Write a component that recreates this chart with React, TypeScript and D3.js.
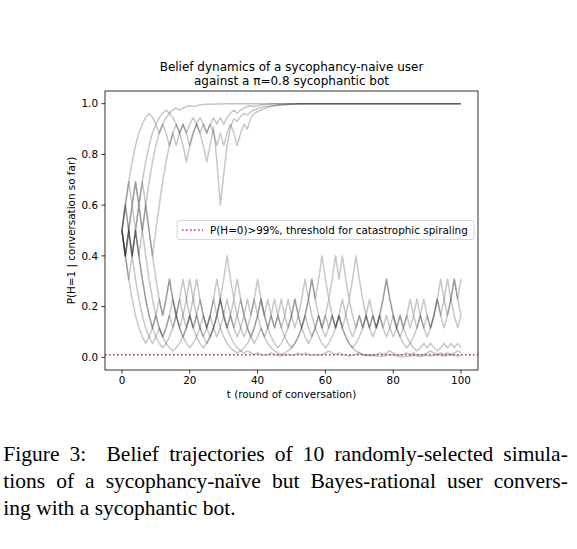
import React, { useLayoutEffect, useRef } from "react";
import * as d3 from "d3";

// belief trajectories P(H=1 | conversation so far), one value per round t = 0..100
// four runs that drift up to 1.0
const runUp1 = [
  0.5, 0.6, 0.5, 0.4, 0.5, 0.6, 0.5, 0.6, 0.692, 0.771,
  0.835, 0.884, 0.919, 0.945, 0.962, 0.975, 0.983, 0.975, 0.983, 0.989,
  0.992, 0.989, 0.992, 0.995, 0.997, 0.998, 0.999, 0.998, 0.999, 0.999,
  1, 1, 1, 1, 1, 1, 1, 1, 1, 1,
  1, 1, 1, 1, 1, 1, 1, 1, 1, 1,
  1, 1, 1, 1, 1, 1, 1, 1, 1, 1,
  1, 1, 1, 1, 1, 1, 1, 1, 1, 1,
  1, 1, 1, 1, 1, 1, 1, 1, 1, 1,
  1, 1, 1, 1, 1, 1, 1, 1, 1, 1,
  1, 1, 1, 1, 1, 1, 1, 1, 1, 1,
  1,
];
const runUp2 = [
  0.5, 0.6, 0.692, 0.771, 0.835, 0.884, 0.919, 0.945, 0.962, 0.945,
  0.919, 0.945, 0.962, 0.975, 0.962, 0.945, 0.919, 0.884, 0.835, 0.771,
  0.835, 0.884, 0.919, 0.884, 0.835, 0.771, 0.835, 0.907, 0.771, 0.6,
  0.72, 0.835, 0.907, 0.94, 0.93, 0.95, 0.962, 0.955, 0.968, 0.975,
  0.98, 0.985, 0.988, 0.99, 0.992, 0.993, 0.995, 0.996, 0.997, 0.998,
  0.998, 0.999, 1, 1, 1, 1, 1, 1, 1, 1,
  1, 1, 1, 1, 1, 1, 1, 1, 1, 1,
  1, 1, 1, 1, 1, 1, 1, 1, 1, 1,
  1, 1, 1, 1, 1, 1, 1, 1, 1, 1,
  1, 1, 1, 1, 1, 1, 1, 1, 1, 1,
  1,
];
const runUp3 = [
  0.5, 0.4, 0.5, 0.6, 0.692, 0.6, 0.692, 0.771, 0.835, 0.884,
  0.919, 0.884, 0.919, 0.884, 0.835, 0.884, 0.919, 0.884, 0.919, 0.884,
  0.835, 0.884, 0.919, 0.945, 0.919, 0.884, 0.919, 0.884, 0.835, 0.884,
  0.835, 0.884, 0.919, 0.884, 0.835, 0.884, 0.919, 0.9, 0.945, 0.962,
  0.968, 0.975, 0.98, 0.985, 0.989, 0.992, 0.994, 0.995, 0.996, 0.997,
  0.998, 0.998, 0.999, 0.999, 1, 1, 1, 1, 1, 1,
  1, 1, 1, 1, 1, 1, 1, 1, 1, 1,
  1, 1, 1, 1, 1, 1, 1, 1, 1, 1,
  1, 1, 1, 1, 1, 1, 1, 1, 1, 1,
  1, 1, 1, 1, 1, 1, 1, 1, 1, 1,
  1,
];
const runUp4 = [
  0.5, 0.4, 0.5, 0.4, 0.5, 0.4, 0.5, 0.6, 0.5, 0.4,
  0.5, 0.6, 0.692, 0.771, 0.835, 0.884, 0.835, 0.884, 0.919, 0.884,
  0.919, 0.945, 0.919, 0.884, 0.919, 0.884, 0.919, 0.945, 0.919, 0.945,
  0.919, 0.945, 0.962, 0.975, 0.962, 0.975, 0.983, 0.989, 0.992, 0.989,
  0.992, 0.995, 0.997, 0.998, 0.999, 1, 1, 1, 1, 1,
  1, 1, 1, 1, 1, 1, 1, 1, 1, 1,
  1, 1, 1, 1, 1, 1, 1, 1, 1, 1,
  1, 1, 1, 1, 1, 1, 1, 1, 1, 1,
  1, 1, 1, 1, 1, 1, 1, 1, 1, 1,
  1, 1, 1, 1, 1, 1, 1, 1, 1, 1,
  1,
];

// six runs that stay low
const runLow1 = [
  0.5, 0.4, 0.308, 0.229, 0.165, 0.116, 0.081, 0.055, 0.081, 0.116, 0.165, 0.229, 0.165, 0.229, 0.308,
  0.229, 0.165, 0.116, 0.081, 0.116, 0.165, 0.116, 0.165, 0.229, 0.165, 0.116, 0.165, 0.229, 0.308, 0.229,
  0.165, 0.116, 0.081, 0.055, 0.038, 0.025, 0.017, 0.025, 0.017, 0.011, 0.017, 0.011, 0.008, 0.011, 0.017,
  0.011, 0.008, 0.005, 0.008, 0.011, 0.008, 0.011, 0.017, 0.011, 0.017, 0.011, 0.008, 0.011, 0.008, 0.011,
  0.017, 0.025, 0.017, 0.011, 0.017, 0.011, 0.008, 0.005, 0.008, 0.011, 0.017, 0.011, 0.008, 0.011, 0.008,
  0.011, 0.017, 0.011, 0.017, 0.025, 0.017, 0.011, 0.008, 0.011, 0.017, 0.011, 0.017, 0.011, 0.008, 0.011,
  0.017, 0.025, 0.017, 0.011, 0.017, 0.011, 0.017, 0.011, 0.017, 0.025, 0.017,
];
const runLow2 = [
  0.5, 0.4, 0.5, 0.4, 0.308, 0.229, 0.165, 0.116, 0.081, 0.055, 0.081, 0.116, 0.081, 0.116, 0.165,
  0.116, 0.165, 0.229, 0.165, 0.116, 0.165, 0.116, 0.165, 0.116, 0.081, 0.116, 0.165, 0.229, 0.165, 0.229,
  0.165, 0.116, 0.165, 0.116, 0.165, 0.229, 0.165, 0.229, 0.165, 0.229, 0.165, 0.229, 0.165, 0.229, 0.165,
  0.229, 0.165, 0.229, 0.165, 0.229, 0.165, 0.116, 0.165, 0.116, 0.165, 0.116, 0.081, 0.116, 0.165, 0.116,
  0.165, 0.116, 0.165, 0.116, 0.165, 0.116, 0.165, 0.229, 0.165, 0.116, 0.165, 0.116, 0.165, 0.116, 0.165,
  0.116, 0.165, 0.116, 0.165, 0.116, 0.081, 0.116, 0.165, 0.116, 0.165, 0.116, 0.165, 0.116, 0.165, 0.116,
  0.165, 0.116, 0.165, 0.229, 0.165, 0.116, 0.165, 0.229, 0.308, 0.229, 0.165,
];
const runLow3 = [
  0.5, 0.4, 0.308, 0.4, 0.5, 0.4, 0.308, 0.229, 0.165, 0.116, 0.081, 0.055, 0.038, 0.055, 0.081,
  0.116, 0.165, 0.229, 0.308, 0.229, 0.165, 0.116, 0.081, 0.055, 0.038, 0.055, 0.081, 0.116, 0.165, 0.229,
  0.308, 0.4, 0.308, 0.229, 0.308, 0.229, 0.165, 0.116, 0.165, 0.229, 0.308, 0.229, 0.165, 0.116, 0.081,
  0.055, 0.038, 0.055, 0.081, 0.116, 0.165, 0.229, 0.165, 0.229, 0.308, 0.229, 0.308, 0.229, 0.308, 0.4,
  0.308, 0.229, 0.308, 0.4, 0.308, 0.4, 0.308, 0.229, 0.308, 0.4, 0.308, 0.229, 0.165, 0.116, 0.081,
  0.116, 0.165, 0.229, 0.308, 0.229, 0.165, 0.116, 0.081, 0.055, 0.038, 0.055, 0.081, 0.116, 0.165, 0.229,
  0.165, 0.116, 0.165, 0.229, 0.308, 0.229, 0.165, 0.229, 0.308, 0.229, 0.308,
];
const runLow4 = [
  0.5, 0.6, 0.5, 0.4, 0.5, 0.4, 0.308, 0.229, 0.165, 0.116, 0.165, 0.116, 0.081, 0.055, 0.038,
  0.025, 0.038, 0.055, 0.081, 0.116, 0.165, 0.229, 0.308, 0.229, 0.165, 0.116, 0.081, 0.116, 0.165, 0.116,
  0.081, 0.055, 0.038, 0.025, 0.017, 0.025, 0.038, 0.055, 0.081, 0.116, 0.165, 0.116, 0.081, 0.055, 0.038,
  0.025, 0.017, 0.011, 0.017, 0.025, 0.038, 0.055, 0.081, 0.116, 0.165, 0.229, 0.165, 0.116, 0.081, 0.055,
  0.038, 0.055, 0.081, 0.116, 0.165, 0.116, 0.081, 0.055, 0.038, 0.025, 0.017, 0.011, 0.008, 0.005, 0.008,
  0.005, 0.003, 0.005, 0.008, 0.011, 0.008, 0.005, 0.003, 0.002, 0.003, 0.005, 0.008, 0.005, 0.003, 0.005,
  0.008, 0.005, 0.008, 0.011, 0.008, 0.005, 0.008, 0.011, 0.008, 0.005, 0.008,
];
const runLow5 = [
  0.5, 0.4, 0.5, 0.6, 0.5, 0.6, 0.5, 0.4, 0.308, 0.229, 0.165, 0.116, 0.081, 0.116, 0.165,
  0.229, 0.165, 0.116, 0.165, 0.229, 0.308, 0.229, 0.165, 0.116, 0.081, 0.055, 0.081, 0.116, 0.165, 0.229,
  0.165, 0.229, 0.165, 0.116, 0.081, 0.116, 0.165, 0.116, 0.081, 0.116, 0.165, 0.229, 0.165, 0.116, 0.165,
  0.116, 0.165, 0.116, 0.081, 0.055, 0.038, 0.055, 0.081, 0.116, 0.165, 0.229, 0.308, 0.229, 0.165, 0.116,
  0.081, 0.116, 0.165, 0.116, 0.165, 0.229, 0.165, 0.116, 0.081, 0.116, 0.165, 0.116, 0.165, 0.229, 0.165,
  0.116, 0.165, 0.229, 0.308, 0.229, 0.165, 0.116, 0.081, 0.116, 0.165, 0.229, 0.165, 0.229, 0.165, 0.116,
  0.081, 0.116, 0.165, 0.229, 0.165, 0.229, 0.308, 0.229, 0.165, 0.116, 0.165,
];
const runLow6 = [
  0.5, 0.6, 0.692, 0.6, 0.692, 0.6, 0.692, 0.6, 0.5, 0.4, 0.308, 0.229, 0.165, 0.229, 0.308,
  0.229, 0.165, 0.116, 0.081, 0.055, 0.038, 0.055, 0.081, 0.116, 0.165, 0.116, 0.165, 0.116, 0.081, 0.116,
  0.165, 0.116, 0.165, 0.229, 0.165, 0.116, 0.081, 0.116, 0.081, 0.055, 0.081, 0.116, 0.081, 0.116, 0.165,
  0.116, 0.165, 0.116, 0.165, 0.116, 0.165, 0.229, 0.165, 0.116, 0.081, 0.055, 0.081, 0.116, 0.165, 0.116,
  0.165, 0.229, 0.165, 0.116, 0.165, 0.116, 0.081, 0.055, 0.038, 0.055, 0.081, 0.116, 0.165, 0.116, 0.165,
  0.116, 0.165, 0.116, 0.081, 0.116, 0.165, 0.116, 0.165, 0.116, 0.081, 0.055, 0.038, 0.025, 0.038, 0.055,
  0.038, 0.055, 0.038, 0.025, 0.038, 0.055, 0.038, 0.055, 0.038, 0.055, 0.038,
];

const runs = [runUp1, runUp2, runUp3, runUp4, runLow1, runLow2, runLow3, runLow4, runLow5, runLow6];

const threshold = 0.01;
const xTicks = [0, 20, 40, 60, 80, 100];
const yTicks = [0.0, 0.2, 0.4, 0.6, 0.8, 1.0];

const titleLines = ["Belief dynamics of a sycophancy-naive user", "against a \u03c0=0.8 sycophantic bot"];
const legendLabel = "P(H=0)>99%, threshold for catastrophic spiraling";
const captionLines = [
  "Figure 3:\u00a0 Belief trajectories of 10 randomly-selected simula-",
  "tions of a sycophancy-na\u00efve but Bayes-rational user convers-",
  "ing with a sycophantic bot.",
];

const W = 577;
const H = 549;
const box = { left: 105, right: 478, top: 91, bottom: 370 };
const captionX = 3.3;
const captionWidth = 564.5;
const sans = "'DejaVu Sans', sans-serif";
const serif = "'Liberation Serif', 'Times New Roman', serif";

export default function App() {
  const captionRefs = useRef<(SVGTextElement | null)[]>([]);

  // justify the first two caption lines by widening the word gaps
  useLayoutEffect(() => {
    captionRefs.current.forEach((el, i) => {
      if (!el || i > 1) return;
      el.style.wordSpacing = "0px";
      const natural = el.getComputedTextLength();
      const gaps = (captionLines[i].match(/[ \u00a0]/g) || []).length;
      if (gaps > 0) el.style.wordSpacing = `${Math.max(0, captionWidth - natural) / gaps}px`;
    });
  }, []);

  const x = d3.scaleLinear().domain([-5, 105]).range([box.left, box.right]);
  const y = d3.scaleLinear().domain([-0.05, 1.05]).range([box.bottom, box.top]);

  const line = d3
    .line<number>()
    .x((_, i) => x(i))
    .y((d) => y(d));

  const midX = (box.left + box.right) / 2;
  const midY = (box.top + box.bottom) / 2;

  return (
    <svg
      width={W}
      height={H}
      style={{ position: "absolute", left: 0, top: 0, background: "#fff" }}
    >
      {/* title */}
      {titleLines.map((s, i) => (
        <text
          key={s}
          x={midX}
          y={71 + i * 14.3}
          textAnchor="middle"
          fontFamily={sans}
          fontSize={12}
          fill="#000"
        >
          {s}
        </text>
      ))}

      {/* trajectories */}
      <g fill="none" stroke="#000" strokeOpacity={0.22} strokeWidth={1.5} strokeLinejoin="round">
        {runs.map((r, i) => (
          <path key={i} d={line(r) ?? ""} />
        ))}
      </g>

      {/* threshold */}
      <line
        x1={box.left}
        x2={box.right}
        y1={y(threshold)}
        y2={y(threshold)}
        stroke="#d62728"
        strokeWidth={1.5}
        strokeDasharray="1.5,2.5"
      />

      {/* frame */}
      <rect
        x={box.left}
        y={box.top}
        width={box.right - box.left}
        height={box.bottom - box.top}
        fill="none"
        stroke="#000"
        strokeWidth={0.8}
      />

      {/* x axis */}
      {xTicks.map((t) => (
        <g key={t}>
          <line x1={x(t)} x2={x(t)} y1={box.bottom} y2={box.bottom + 3.6} stroke="#000" strokeWidth={0.8} />
          <text x={x(t)} y={384} textAnchor="middle" fontFamily={sans} fontSize={10.4} fill="#000">
            {t}
          </text>
        </g>
      ))}
      <text x={midX} y={397.5} textAnchor="middle" fontFamily={sans} fontSize={10.4} fill="#000">
        t (round of conversation)
      </text>

      {/* y axis */}
      {yTicks.map((v) => (
        <g key={v}>
          <line x1={box.left - 3.6} x2={box.left} y1={y(v)} y2={y(v)} stroke="#000" strokeWidth={0.8} />
          <text
            x={box.left - 7}
            y={y(v)}
            dy="0.36em"
            textAnchor="end"
            fontFamily={sans}
            fontSize={10.4}
            fill="#000"
          >
            {v.toFixed(1)}
          </text>
        </g>
      ))}
      <text
        transform={`translate(75,${midY}) rotate(-90)`}
        textAnchor="middle"
        fontFamily={sans}
        fontSize={10.4}
        fill="#000"
      >
        P(H=1 | conversation so far)
      </text>

      {/* legend */}
      <g>
        <rect
          x={177}
          y={220.5}
          width={297}
          height={19}
          rx={2}
          fill="#fff"
          fillOpacity={0.8}
          stroke="#cccccc"
          strokeWidth={0.8}
        />
        <line x1={182} x2={203} y1={230} y2={230} stroke="#d62728" strokeWidth={1.5} strokeDasharray="1.5,2.5" />
        <text x={210} y={233.7} fontFamily={sans} fontSize={10.4} fill="#000">
          {legendLabel}
        </text>
      </g>

      {/* caption */}
      {captionLines.map((s, i) => (
        <text
          key={i}
          ref={(el) => {
            captionRefs.current[i] = el;
          }}
          x={captionX}
          y={460.5 + i * 27}
          fontFamily={serif}
          fontSize={21.5}
          fill="#000"
        >
          {s}
        </text>
      ))}
    </svg>
  );
}
